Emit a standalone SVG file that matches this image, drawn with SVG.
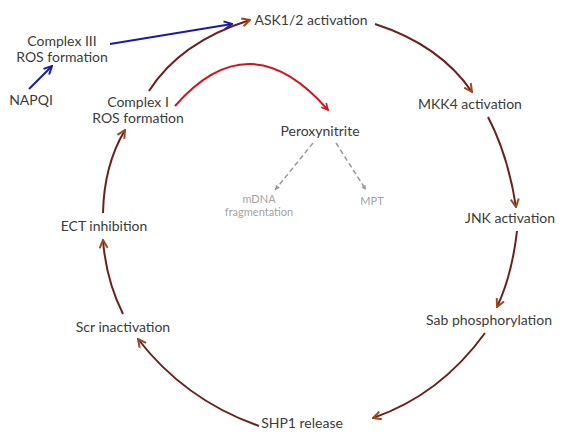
<svg xmlns="http://www.w3.org/2000/svg" width="570" height="439" viewBox="0 0 570 439">
<defs>
<style>
.t{font-family:Lato,"Liberation Sans",sans-serif;font-size:14px;fill:#3b3b3b;text-anchor:middle}
.g{font-family:Lato,"Liberation Sans",sans-serif;font-size:11px;fill:#a3a3a3;text-anchor:middle}
.c{fill:none;stroke:#6e1f1c;stroke-width:2}
.b{fill:none;stroke:#1a1aa8;stroke-width:2}
.r{fill:none;stroke:#d4121c;stroke-width:2}
.d{fill:none;stroke:#999;stroke-width:1.5;stroke-dasharray:5,3}
</style>
<marker id="ab" viewBox="0 0 10 10" refX="9" refY="5" markerWidth="5" markerHeight="5" orient="auto" markerUnits="strokeWidth"><path d="M1,1 L9,5 L1,9" fill="none" stroke="#9b4a20" stroke-width="2"/></marker>
<marker id="ablue" viewBox="0 0 10 10" refX="9" refY="5" markerWidth="5" markerHeight="5" orient="auto" markerUnits="strokeWidth"><path d="M1,1 L9,5 L1,9" fill="none" stroke="#1a1aa8" stroke-width="2"/></marker>
<marker id="ared" viewBox="0 0 10 10" refX="9" refY="5" markerWidth="4" markerHeight="4" orient="auto" markerUnits="strokeWidth"><path d="M1,1 L9,5 L1,9" fill="none" stroke="#d4121c" stroke-width="2"/></marker>
<marker id="agray" viewBox="0 0 10 10" refX="9" refY="5" markerWidth="4" markerHeight="4" orient="auto" markerUnits="strokeWidth"><path d="M1,1 L9,5 L1,9 Z" fill="#999"/></marker>
</defs>
<rect width="570" height="439" fill="#fff"/>
<g id="connectors">
<path class="b" d="M29,89 L52,66" marker-end="url(#ablue)"/>
<path class="b" d="M110,44 L232,24" marker-end="url(#ablue)"/>
<path class="c" d="M149,91 Q180,42 250,20" marker-end="url(#ab)"/>
<path class="r" d="M175,106 Q250,20 328,110" marker-end="url(#ared)"/>
<path class="c" d="M375,24 Q440,45 472,92" marker-end="url(#ab)"/>
<path class="c" d="M488,117 Q508,155 516,207" marker-end="url(#ab)"/>
<path class="c" d="M517,231 Q512,275 497,307" marker-end="url(#ab)"/>
<path class="c" d="M485,333 Q440,395 373,418" marker-end="url(#ab)"/>
<path class="c" d="M259,426 Q185,400 138,339" marker-end="url(#ab)"/>
<path class="c" d="M123,314 Q106,280 103,240" marker-end="url(#ab)"/>
<path class="c" d="M103,213 Q104,165 125,130" marker-end="url(#ab)"/>
<path class="d" d="M313,143 L275,190" marker-end="url(#agray)"/>
<path class="d" d="M336,143 L366,190" marker-end="url(#agray)"/>
</g>
<g id="ask"><text class="t" x="311" y="25">ASK1/2 activation</text></g>
<g id="complex3"><text class="t" x="62" y="46">Complex III</text><text class="t" x="62" y="62">ROS formation</text></g>
<g id="napqi"><text class="t" x="31" y="105">NAPQI</text></g>
<g id="complex1"><text class="t" x="138" y="107">Complex I</text><text class="t" x="138" y="123">ROS formation</text></g>
<g id="peroxynitrite"><text class="t" x="320" y="136">Peroxynitrite</text></g>
<g id="mdna"><text class="g" x="259" y="203">mDNA</text><text class="g" x="259" y="216">fragmentation</text></g>
<g id="mpt"><text class="g" x="372" y="205">MPT</text></g>
<g id="mkk4"><text class="t" x="470" y="109">MKK4 activation</text></g>
<g id="jnk"><text class="t" x="510" y="223">JNK activation</text></g>
<g id="sab"><text class="t" x="489" y="325">Sab phosphorylation</text></g>
<g id="shp1"><text class="t" x="302" y="428">SHP1 release</text></g>
<g id="scr"><text class="t" x="123" y="332">Scr inactivation</text></g>
<g id="ect"><text class="t" x="104" y="231">ECT inhibition</text></g>
</svg>
